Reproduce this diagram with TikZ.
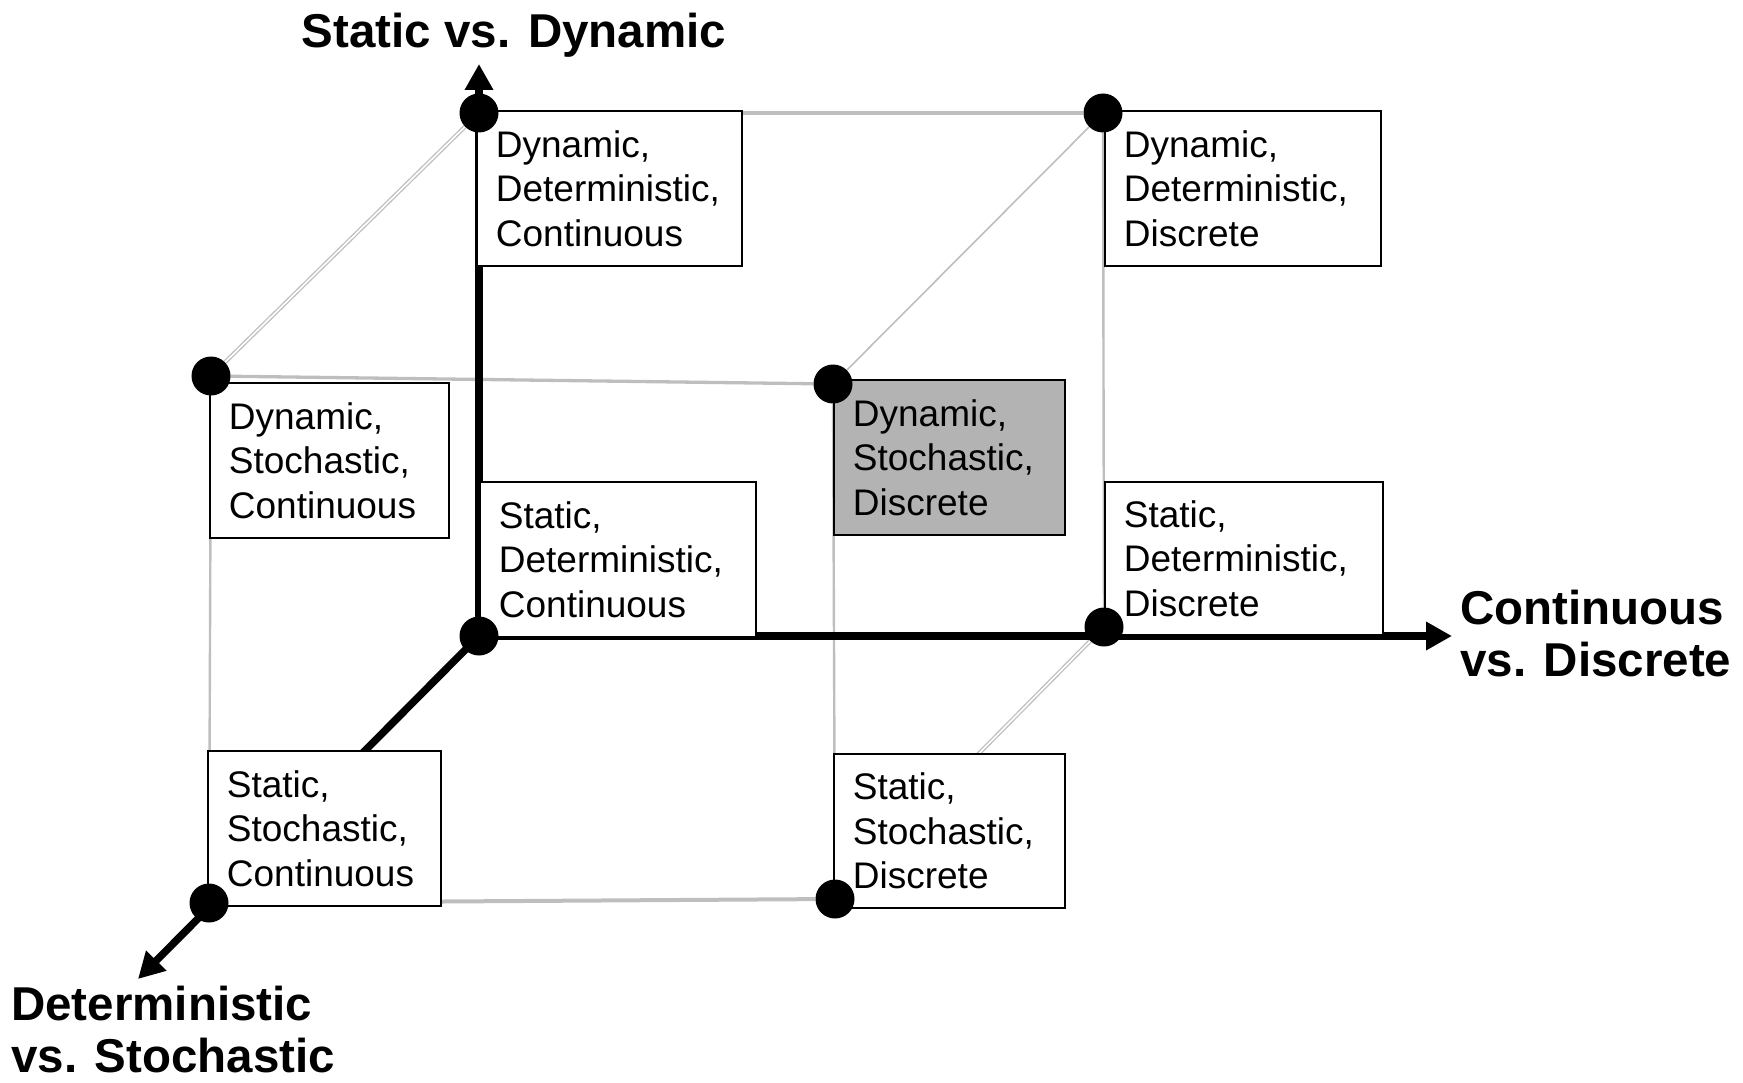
\documentclass[tikz,border=0pt]{standalone}
\usepackage{fontspec}
\setmainfont{Liberation Sans}
\usetikzlibrary{arrows.meta,backgrounds}
\definecolor{edgegray}{RGB}{190,190,190}
\definecolor{cellgray}{RGB}{179,179,179}
\begin{document}
\begin{tikzpicture}[x=1pt,y=-1pt,
  edge/.style={draw=edgegray, line width=3.3pt},
  thinedge/.style={draw=edgegray, line width=1.6pt},
  vedge/.style={draw=edgegray, line width=2.4pt},
  dbl/.style={draw=edgegray, line width=1.3pt, double=white, double distance=1.6pt},
  axis/.style={draw=black, line width=7.5pt, -{Triangle[width=27pt,length=26pt]}},
  cell/.style={draw=black, fill=white, line width=1.8pt, anchor=north west, align=left,
    inner xsep=19pt, inner ysep=0pt, minimum height=155pt,
    font=\fontsize{37}{44.5}\selectfont},
  dot/.style={circle, fill=black, inner sep=0pt, minimum size=39pt},
  lab/.style={font=\fontsize{47.5}{52}\selectfont\bfseries, align=left, inner sep=0pt}]

\useasboundingbox (0,0) rectangle (1743,1083);

% boxes
\node[cell, text width=227pt] (b1) at (476,110) {Dynamic,\\Deterministic,\\Continuous};
\node[cell, text width=238pt] (b2) at (1104,110) {Dynamic,\\Deterministic,\\Discrete};
\node[cell, text width=201pt] (b3) at (209,382) {Dynamic,\\Stochastic,\\Continuous};
\node[cell, text width=193pt, fill=cellgray] (b4) at (833,379) {Dynamic,\\Stochastic,\\Discrete};
\node[cell, text width=238pt] (b5) at (479,481) {Static,\\Deterministic,\\Continuous};
\node[cell, text width=240pt, minimum height=153pt] (b6) at (1104,481) {Static,\\Deterministic,\\Discrete};
\node[cell, text width=195pt] (b7) at (207,750) {Static,\\Stochastic,\\Continuous};
\node[cell, text width=193pt, minimum height=154pt] (b8) at (833,753) {Static,\\Stochastic,\\Discrete};

% dots
\node[dot] (d1) at (479,113) {};
\node[dot] (d2) at (1103,113) {};
\node[dot] (d3) at (211,376) {};
\node[dot] (d4) at (833,384) {};
\node[dot] (d5) at (479,636) {};
\node[dot] (d6) at (1104,627) {};
\node[dot] (d7) at (209,903) {};
\node[dot] (d8) at (835,899) {};

% axis tips
\coordinate (ytip) at (479,64);
\coordinate (xtip) at (1452,636);
\coordinate (ztip) at (138,979);

\begin{pgfonlayer}{background}
  \draw[edge] (d1) -- (d2);
  \draw[edge] (d3) -- (d4);
  \draw[dbl] (d1) -- (d3);
  \draw[thinedge] (d2) -- (d4);
  \draw[vedge] (d2) -- (d6);
  \draw[vedge] (d3) -- (d7);
  \draw[vedge] (d4) -- (d8);
  \draw[edgegray, line width=4pt] (d7) -- (d8);
  \draw[dbl] (d6) -- (d8);
  \draw[axis] (d5.center) -- (ytip);
  \draw[axis] (d5.center) -- (xtip);
  \draw[axis] (d5.center) -- (ztip);
\end{pgfonlayer}

% axis labels
\node[lab, anchor=north] (ly) at (514,13) {Static vs. Dynamic};
\node[lab, anchor=north west] (lx) at (1460,590) {Continuous\\vs. Discrete};
\node[lab, anchor=north west] (lz) at (11,986) {Deterministic\\vs. Stochastic};
\end{tikzpicture}
\end{document}
